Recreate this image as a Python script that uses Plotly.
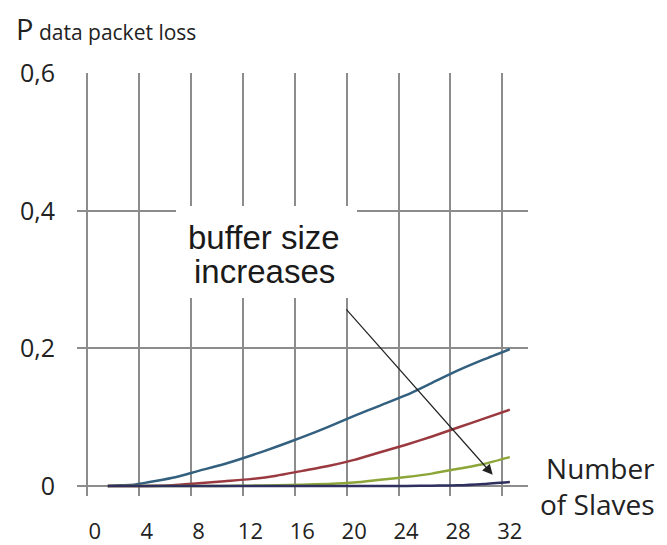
import plotly.graph_objects as go

# ---- data ----
slaves = [1, 2, 3, 4, 6, 8, 10, 12, 14, 16, 18, 20, 22, 24, 26, 28, 30, 32]
loss_buf1 = [0.000, 0.001, 0.002, 0.005, 0.012, 0.022, 0.032, 0.044, 0.057, 0.071,
             0.086, 0.102, 0.117, 0.132, 0.150, 0.168, 0.184, 0.199]
loss_buf2 = [0.000, 0.000, 0.000, 0.000, 0.001, 0.004, 0.007, 0.010, 0.015, 0.022,
             0.029, 0.038, 0.049, 0.060, 0.072, 0.085, 0.098, 0.111]
loss_buf3 = [0.000, 0.000, 0.000, 0.000, 0.000, 0.000, 0.000, 0.0005, 0.001, 0.002,
             0.003, 0.005, 0.009, 0.013, 0.018, 0.025, 0.032, 0.042]
loss_buf4 = [0.000, 0.000, 0.000, 0.000, 0.000, 0.000, 0.000, 0.000, 0.000, 0.000,
             0.000, 0.000, 0.000, 0.000, 0.0005, 0.001, 0.003, 0.006]

x_tick_vals = [0, 4, 8, 12, 16, 20, 24, 28, 32]
x_tick_text = ["0", "4", "8", "12", "16", "20", "24", "28", "32"]
y_tick_vals = [0, 0.2, 0.4, 0.6]
y_tick_text = ["0", "0,2", "0,4", "0,6"]

series = [
    (loss_buf1, "#34607f"),
    (loss_buf2, "#9a3a40"),
    (loss_buf3, "#8da63a"),
    (loss_buf4, "#2f3060"),
]

fig = go.Figure()
for vals, col in series:
    fig.add_trace(go.Scatter(x=slaves, y=vals, mode="lines",
                             line=dict(color=col, width=2.5, shape="spline", smoothing=0.6),
                             showlegend=False, hoverinfo="skip"))

GRID = "#8c8c8c"
TXT = "#222222"

OFF = 8  # page body margin
FW, FH = 667 - OFF, 545 - OFF
L, T, W, H = 77 - OFF, 73 - OFF, 451, 423

def px(xs):
    return (xs - OFF - L) / W

def py(ys):
    return (T + H - (ys - OFF)) / H

fig.update_layout(
    width=FW, height=FH,
    margin=dict(l=L, r=FW - L - W, t=T, b=FH - T - H),
    paper_bgcolor="white", plot_bgcolor="white",
    font=dict(family="Open Sans", color=TXT),
    xaxis=dict(
        range=[-1.372, 33.40], automargin=False,
        tickmode="array", tickvals=x_tick_vals, ticktext=x_tick_text,
        showgrid=False, zeroline=False, showline=False, ticks="",
        tickfont=dict(family="Open Sans", size=22, color=TXT),
        ticklabelstandoff=20,
        minor=dict(tick0=-0.58, dtick=4, showgrid=True, gridcolor=GRID, gridwidth=1.5, ticks=""),
    ),
    yaxis=dict(
        range=[-0.01453, 0.6005], automargin=False,
        tickmode="array", tickvals=y_tick_vals, ticktext=y_tick_text,
        showgrid=True, gridcolor=GRID, gridwidth=1.5,
        zeroline=False, showline=False, ticks="",
        tickfont=dict(family="Open Sans", size=25, color=TXT),
        ticklabelstandoff=21,
    ),
)

# white box behind the "buffer size increases" label
fig.add_shape(type="rect", xref="paper", yref="paper",
              x0=px(176), x1=px(357), y0=py(298), y1=py(206),
              fillcolor="white", line=dict(width=0), layer="above")

# axis title (top-left)
fig.add_annotation(
    xref="paper", yref="paper", x=px(15), y=py(OFF),
    xanchor="left", yanchor="top", showarrow=False, borderpad=0,
    text="P<span style='font-size:21px'> data packet loss</span>",
    font=dict(family="Open Sans", size=29, color=TXT),
)

# x axis title (right)
fig.add_annotation(
    xref="paper", yref="paper", x=px(657), y=py(486),
    xanchor="right", yanchor="middle", showarrow=False, align="right",
    text="Number<br>of Slaves", font=dict(family="Open Sans", size=28, color=TXT),
)

# arrow
fig.add_annotation(
    x=30.68, y=0.0164, ax=19.29, ay=0.259, axref="x", ayref="y",
    xref="x", yref="y", text="", showarrow=True,
    arrowhead=2, arrowsize=1.7, arrowwidth=1.2, arrowcolor="#222222",
)

# label lines
fig.add_annotation(
    xref="paper", yref="paper", x=px(264), y=py(237),
    xanchor="center", yanchor="middle", showarrow=False,
    text="buffer size",
    font=dict(family="Liberation Sans", size=33, color="#1a1a1a"),
)
fig.add_annotation(
    xref="paper", yref="paper", x=px(264), y=py(271),
    xanchor="center", yanchor="middle", showarrow=False,
    text="increases",
    font=dict(family="Liberation Sans", size=33, color="#1a1a1a"),
)

fig.write_html("out.html")
